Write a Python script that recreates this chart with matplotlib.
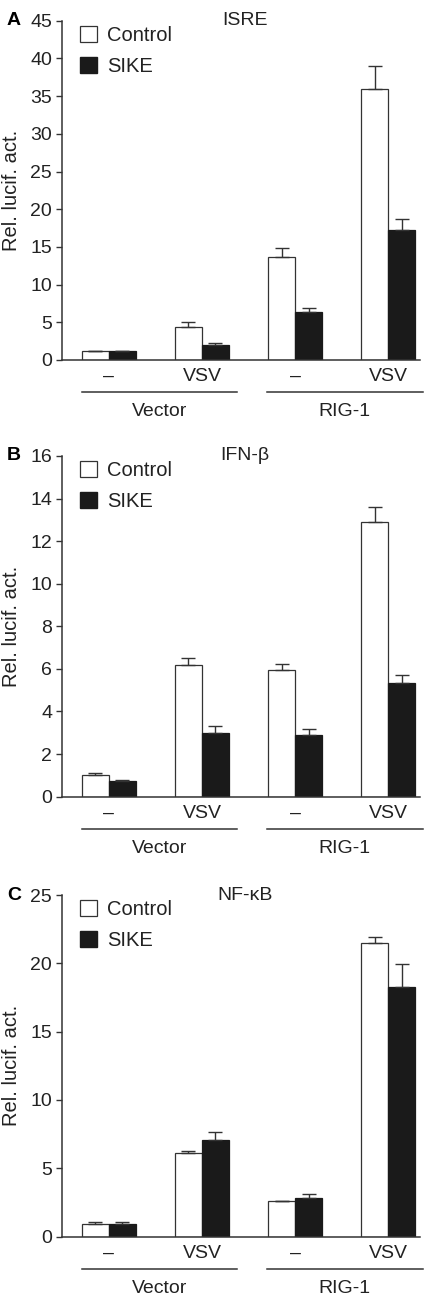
import numpy as np
import matplotlib
matplotlib.use("Agg")
import matplotlib.pyplot as plt
from matplotlib.patches import Patch

plt.rcParams['font.family'] = ['Liberation Sans', 'DejaVu Sans']

# data
conditions = ['–', 'VSV', '–', 'VSV']
constructs = ['Vector', 'RIG-1']
series = ['Control', 'SIKE']

isre_ctrl = [1.2, 4.4, 13.7, 35.9]
isre_ctrl_err = [0.0, 0.6, 1.1, 3.1]
isre_sike = [1.2, 2.0, 6.4, 17.3]
isre_sike_err = [0.0, 0.2, 0.5, 1.4]

ifn_ctrl = [1.0, 6.2, 5.95, 12.9]
ifn_ctrl_err = [0.1, 0.3, 0.3, 0.7]
ifn_sike = [0.75, 3.0, 2.9, 5.35]
ifn_sike_err = [0.05, 0.3, 0.3, 0.35]

nfkb_ctrl = [0.9, 6.1, 2.6, 21.5]
nfkb_ctrl_err = [0.15, 0.15, 0.0, 0.45]
nfkb_sike = [0.95, 7.05, 2.8, 18.3]
nfkb_sike_err = [0.1, 0.6, 0.3, 1.65]

panels = [
    ('A', 'ISRE', isre_ctrl, isre_ctrl_err, isre_sike, isre_sike_err, 45, 5),
    ('B', 'IFN-β', ifn_ctrl, ifn_ctrl_err, ifn_sike, ifn_sike_err, 16, 2),
    ('C', 'NF-κB', nfkb_ctrl, nfkb_ctrl_err, nfkb_sike, nfkb_sike_err, 25, 5),
]

# axes boxes in figure fractions (left, bottom, width, height)
boxes = [
    [0.146, 0.7229, 0.845, 0.2611],
    [0.146, 0.3867, 0.845, 0.2623],
    [0.146, 0.0480, 0.845, 0.2630],
]

edge = '#333333'
dark = '#1a1a1a'
txt = '#222222'
fs = 14

fig = plt.figure(figsize=(4.24, 12.99), dpi=100)

x = np.arange(len(conditions))
w = 0.29

for (letter, title, c, ce, s, se, ymax, step), box in zip(panels, boxes):
    ax = fig.add_axes(box)
    ax.bar(x - w / 2, c, w, color='white', edgecolor=edge, linewidth=0.9,
           yerr=[np.zeros(4), ce], capsize=5,
           error_kw=dict(ecolor=edge, elinewidth=1.0, capthick=1.0))
    ax.bar(x + w / 2, s, w, color=dark, edgecolor=dark, linewidth=0.9,
           yerr=[np.zeros(4), se], capsize=5,
           error_kw=dict(ecolor=edge, elinewidth=1.0, capthick=1.0))

    ax.set_xlim(-0.505, 3.345)
    ax.set_ylim(0, ymax)
    ax.set_yticks(np.arange(0, ymax + 0.1, step))
    ax.set_xticks(x)
    ax.set_xticklabels(conditions)
    ax.tick_params(axis='x', length=0, pad=6, labelsize=fs, labelcolor=txt)
    ax.tick_params(axis='y', length=4, width=1.0, color=edge, pad=3,
                   labelsize=fs, labelcolor=txt)
    for sp in ['top', 'right']:
        ax.spines[sp].set_visible(False)
    for sp in ['left', 'bottom']:
        ax.spines[sp].set_color(edge)
        ax.spines[sp].set_linewidth(1.1)

    ax.text(-0.142, 0.5, 'Rel. lucif. act.', transform=ax.transAxes,
            rotation=90, ha='center', va='center', fontsize=fs + 0.5,
            color=txt)

    ax.text(0.51, 1.0, title, transform=ax.transAxes, ha='center',
            va='center', fontsize=fs, color=txt)
    fig.text(0.016, box[1] + box[3], letter, fontsize=fs,
             fontweight='bold', ha='left', va='center')

    # construct brackets under the conditions
    tr = ax.get_xaxis_transform()
    for (x0, x1), name in zip([(-0.29, 1.376), (1.70, 3.37)], constructs):
        ax.plot([x0, x1], [-0.094, -0.094], color=edge, lw=1.1,
                transform=tr, clip_on=False)
        ax.text((x0 + x1) / 2, -0.153, name, transform=tr, ha='center',
                va='center', fontsize=fs, color=txt)

    handles = [Patch(facecolor='white', edgecolor=edge, linewidth=0.9),
               Patch(facecolor=dark, edgecolor=dark)]
    ax.legend(handles, series, loc='upper left', bbox_to_anchor=(0.05, 0.985),
              frameon=False, fontsize=fs + 0.5, handlelength=0.85,
              handleheight=0.85, handletextpad=0.5, labelspacing=0.6,
              borderaxespad=0, borderpad=0, labelcolor=txt)

fig.savefig('out.png', dpi=100)
